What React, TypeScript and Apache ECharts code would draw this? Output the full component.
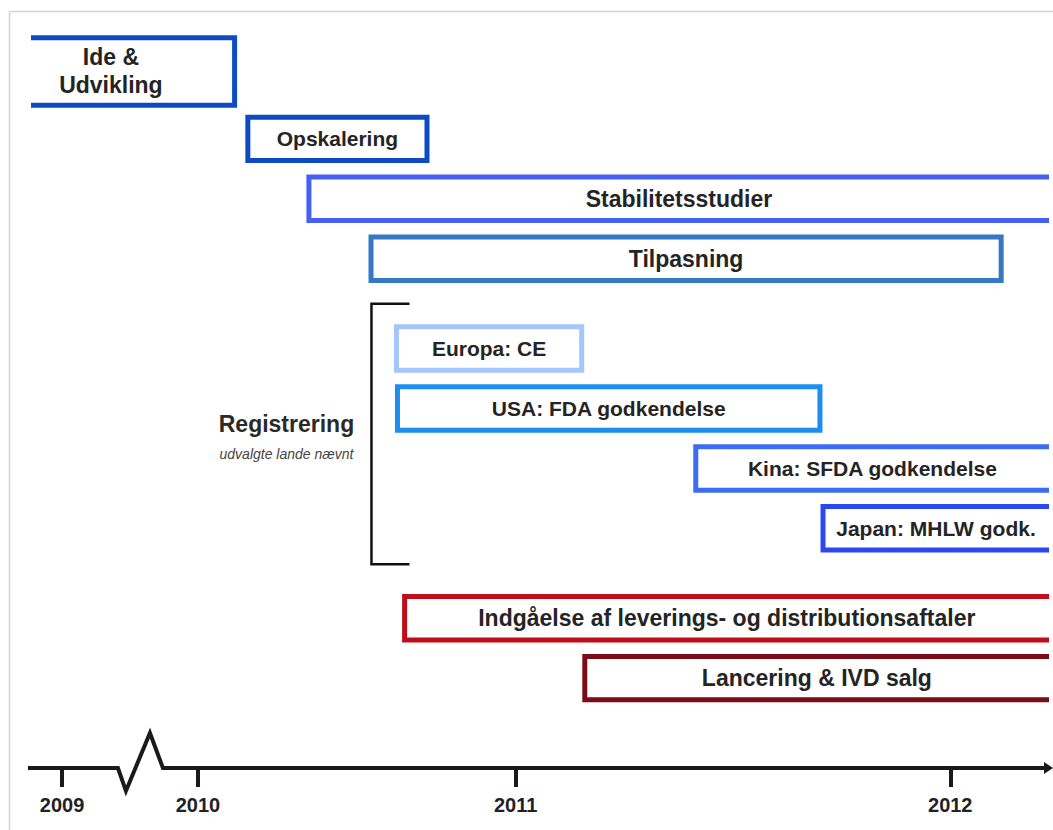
import React, { useEffect, useRef } from "react";
import * as echarts from "echarts";

// ---- data ----
const tasks = [
  "Ide &\nUdvikling",
  "Opskalering",
  "Stabilitetsstudier",
  "Tilpasning",
  "Europa: CE",
  "USA: FDA godkendelse",
  "Kina: SFDA godkendelse",
  "Japan: MHLW godk.",
  "Indgåelse af leverings- og distributionsaftaler",
  "Lancering & IVD salg",
];
const phases = [0, 0, 0, 0, 1, 1, 1, 1, 2, 2];
// timeline position (abstract units, 0..100 across the drawn axis)
const starts = [-4.3, 21.3, 27.3, 33.4, 35.9, 36.0, 65.3, 77.8, 36.7, 54.4];
const ends = [20.0, 38.9, 101, 95.3, 54.1, 77.5, 104, 104, 104, 104];
const yearLabels = ["2009", "2010", "2011", "2012"];
const yearTicks = [3.05, 16.4, 47.6, 90.3];
const axisBreakAt = 10.75;
const groupLabel = "Registrering";
const groupNote = "udvalgte lande nævnt";
const groupFrom = 4;
const groupTo = 7;

// ---- styles ----
const colors = [
  "#0d4bc4",
  "#0d4bc4",
  "#4660f4",
  "#3678c2",
  "#a4c6fb",
  "#1c8ef0",
  "#3c6cf4",
  "#2b47f2",
  "#c00d1a",
  "#7b0c17",
];
const labelSizes = [23, 21, 23, 23, 21, 21, 21, 21, 23, 23];

const Y_MAX = 24.5;
const FONT = "'Liberation Sans', Arial, Helvetica, sans-serif";

// row layout: two-line rows take a little more room, phases separated by a gap
function computeRows(): number[] {
  const rows: number[] = [];
  let pos = 0;
  tasks.forEach((t, i) => {
    const lines = t.split("\n").length;
    const span = 2 + 0.5 * (lines - 1);
    if (i > 0 && phases[i] !== phases[i - 1]) pos += 1;
    rows.push(pos + span / 2);
    pos += span;
  });
  return rows;
}

export default function App() {
  const ref = useRef<HTMLDivElement>(null);

  useEffect(() => {
    if (!ref.current) return;
    const chart = echarts.init(ref.current, undefined, { renderer: "svg" });
    const rows = computeRows();
    const taskData = tasks.map((t, i) => ({
      name: t,
      value: [starts[i], ends[i], rows[i], i],
    }));

    const option: any = {
      animation: false,
      backgroundColor: "#ffffff",
      grid: { left: 31, right: 4, top: 34, bottom: 62 },
      xAxis: {
        type: "value",
        position: "bottom",
        min: 0,
        max: 100,
        splitLine: { show: false },
        axisLine: { show: false, onZero: false },
        axisTick: {
          show: true,
          inside: false,
          customValues: yearTicks,
          length: 19,
          lineStyle: { width: 4, color: "#1a1a1a" },
        },
        axisLabel: {
          show: true,
          customValues: yearTicks,
          margin: 27,
          fontSize: 20,
          fontWeight: "bold",
          fontFamily: FONT,
          color: "#222",
          formatter: (v: number) => {
            const idx = yearTicks.findIndex((t) => Math.abs(t - v) < 1e-6);
            return idx >= 0 ? yearLabels[idx] : "";
          },
        },
      },
      yAxis: {
        type: "value",
        inverse: true,
        min: 0,
        max: Y_MAX,
        show: false,
      },
      graphic: [
        {
          type: "line",
          shape: { x1: 9.5, y1: 11.5, x2: 1053, y2: 11.5 },
          style: { stroke: "#d3d3d3", lineWidth: 1.5 },
        },
        {
          type: "line",
          shape: { x1: 9.5, y1: 11.5, x2: 9.5, y2: 830 },
          style: { stroke: "#d3d3d3", lineWidth: 1.5 },
        },
      ],
      series: [
        {
          type: "custom",
          name: "tasks",
          clip: true,
          encode: { x: [0, 1], y: 2 },
          data: taskData,
          renderItem: (params: any, api: any) => {
            const idx = api.value(3);
            const s = api.coord([api.value(0), api.value(2)]);
            const e = api.coord([api.value(1), api.value(2)]);
            const unit = api.size([0, 1])[1];
            const label = tasks[idx];
            const lines = label.split("\n").length;
            const h = unit * (1.45 + 0.8 * (lines - 1));
            const right = params.coordSys.x + params.coordSys.width;
            const cx = (s[0] + Math.min(e[0], right)) / 2;
            return {
              type: "group",
              children: [
                {
                  type: "rect",
                  shape: { x: s[0], y: s[1] - h / 2, width: e[0] - s[0], height: h },
                  style: { fill: "#ffffff", stroke: colors[idx], lineWidth: 5 },
                },
                {
                  type: "text",
                  x: cx,
                  y: s[1],
                  style: {
                    text: label,
                    fill: "#242424",
                    font: `bold ${labelSizes[idx]}px ${FONT}`,
                    lineHeight: 28,
                    align: "center",
                    verticalAlign: "middle",
                  },
                },
              ],
            };
          },
        },
        {
          type: "custom",
          name: "group",
          clip: false,
          encode: { x: 0, y: 1 },
          data: [[starts[groupFrom], rows[groupFrom], rows[groupTo]]],
          renderItem: (params: any, api: any) => {
            const unit = api.size([0, 1])[1];
            const top = api.coord([api.value(0), api.value(1)]);
            const bot = api.coord([api.value(0), api.value(2)]);
            const bx = top[0] - 25;
            const y1 = top[1] - 1.5 * unit;
            const y2 = bot[1] + 1.2 * unit;
            const mid = (y1 + y2) / 2;
            return {
              type: "group",
              children: [
                {
                  type: "polyline",
                  shape: {
                    points: [
                      [bx + 38, y1],
                      [bx, y1],
                      [bx, y2],
                      [bx + 38, y2],
                    ],
                  },
                  style: { stroke: "#111", lineWidth: 2.5, fill: "none" },
                },
                {
                  type: "text",
                  x: bx - 85,
                  y: mid - 10,
                  style: {
                    text: groupLabel,
                    fill: "#2a2a2a",
                    font: `bold 23px ${FONT}`,
                    align: "center",
                    verticalAlign: "middle",
                  },
                },
                {
                  type: "text",
                  x: bx - 85,
                  y: mid + 20,
                  style: {
                    text: groupNote,
                    fill: "#444",
                    font: `italic 14px ${FONT}`,
                    align: "center",
                    verticalAlign: "middle",
                  },
                },
              ],
            };
          },
        },
        {
          type: "custom",
          name: "axis",
          clip: false,
          encode: { x: 0, y: 1 },
          data: [[axisBreakAt, Y_MAX]],
          renderItem: (params: any, api: any) => {
            const c = api.coord([api.value(0), api.value(1)]);
            const start = api.coord([-0.3, api.value(1)]);
            const bx = c[0];
            const y = c[1];
            const xEnd = 1046;
            return {
              type: "group",
              children: [
                {
                  type: "polyline",
                  shape: {
                    points: [
                      [start[0], y],
                      [bx - 22.5, y],
                      [bx - 14.5, y + 23],
                      [bx + 9.5, y - 35],
                      [bx + 22.5, y],
                      [xEnd, y],
                    ],
                  },
                  style: { stroke: "#1a1a1a", lineWidth: 4, fill: "none", lineJoin: "miter" },
                },
                {
                  type: "polygon",
                  shape: {
                    points: [
                      [xEnd - 2, y - 6],
                      [xEnd + 7, y],
                      [xEnd - 2, y + 6],
                    ],
                  },
                  style: { fill: "#1a1a1a" },
                },
              ],
            };
          },
        },
      ],
    };
    chart.setOption(option);
    return () => chart.dispose();
  }, []);

  return (
    <div
      ref={ref}
      style={{ position: "fixed", left: 0, top: 0, width: 1053, height: 830, background: "#fff" }}
    />
  );
}
